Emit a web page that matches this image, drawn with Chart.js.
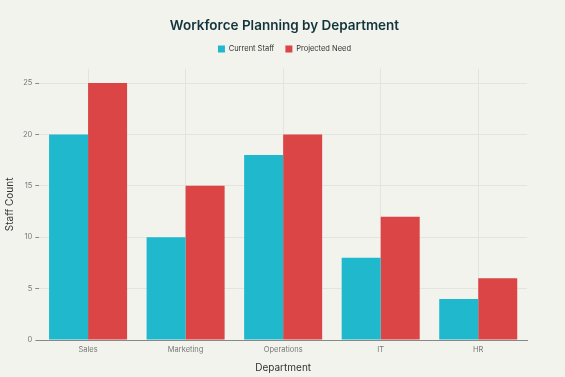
<!DOCTYPE html>
<html>
<head>
<meta charset="utf-8">
<script src="https://cdn.jsdelivr.net/npm/chart.js@4/dist/chart.umd.min.js"></script>
<style>
  html, body { margin: 0; padding: 0; background: #F3F3EE; }
  #wrap { width: 565px; height: 377px; position: relative; }
</style>
</head>
<body>
<div id="wrap"><canvas id="c"></canvas></div>
<script>
const departments = ["Sales", "Marketing", "Operations", "IT", "HR"];
const currentStaff = [20, 10, 18, 8, 4];
const projectedNeed = [25, 15, 20, 12, 6];
const seriesNames = ["Current Staff", "Projected Need"];

const FONT = "Inter, 'DejaVu Sans', sans-serif";

new Chart(document.getElementById("c"), {
  type: "bar",
  data: {
    labels: departments,
    datasets: [
      { label: seriesNames[0], data: currentStaff, backgroundColor: "#1FB8CD", borderWidth: 0 },
      { label: seriesNames[1], data: projectedNeed, backgroundColor: "#DB4545", borderWidth: 0 }
    ]
  },
  options: {
    responsive: true,
    maintainAspectRatio: false,
    animation: false,
    layout: { padding: { left: 4, right: 0, top: 14, bottom: 1 } },
    datasets: { bar: { categoryPercentage: 0.8, barPercentage: 1.0 } },
    plugins: {
      title: {
        display: true,
        text: "Workforce Planning by Department",
        color: "#13343B",
        font: { family: FONT, size: 13.5, weight: "600" },
        padding: { top: 4, bottom: 0 }
      },
      legend: {
        display: true,
        position: "top",
        labels: {
          boxWidth: 7, boxHeight: 7,
          color: "#333",
          font: { family: FONT, size: 7.5 },
          padding: 11
        }
      },
      tooltip: { enabled: false }
    },
    scales: {
      x: {
        grid: { display: true, offset: false, color: "#E4E4DF", drawTicks: false },
        border: { display: true, color: "#888" },
        ticks: { color: "#777", font: { family: FONT, size: 7.5 }, padding: 5 },
        title: {
          display: true, text: "Department", color: "#333",
          font: { family: FONT, size: 10 }, padding: { top: 3, bottom: 2 }
        }
      },
      xTop: {
        position: "top",
        display: true,
        grid: { display: false },
        border: { display: false },
        ticks: { display: false },
        afterFit: (s) => { s.height = 6; }
      },
      y: {
        min: 0,
        max: 26.4,
        afterBuildTicks: (axis) => { axis.ticks = axis.ticks.filter(t => t.value % 5 === 0); },
        ticks: { stepSize: 5, color: "#777", font: { family: FONT, size: 7.5 }, padding: 3 },
        grid: { color: "#E4E4DF", tickLength: 4, tickColor: "#888" },
        border: { display: false },
        title: {
          display: true, text: "Staff Count", color: "#333",
          font: { family: FONT, size: 10 }, padding: { top: 0, bottom: 4 }
        }
      },
      yRight: {
        position: "right",
        display: true,
        grid: { display: false },
        border: { display: false },
        ticks: { display: false },
        afterFit: (s) => { s.width = 38; }
      }
    }
  }
});
</script>
</body>
</html>
